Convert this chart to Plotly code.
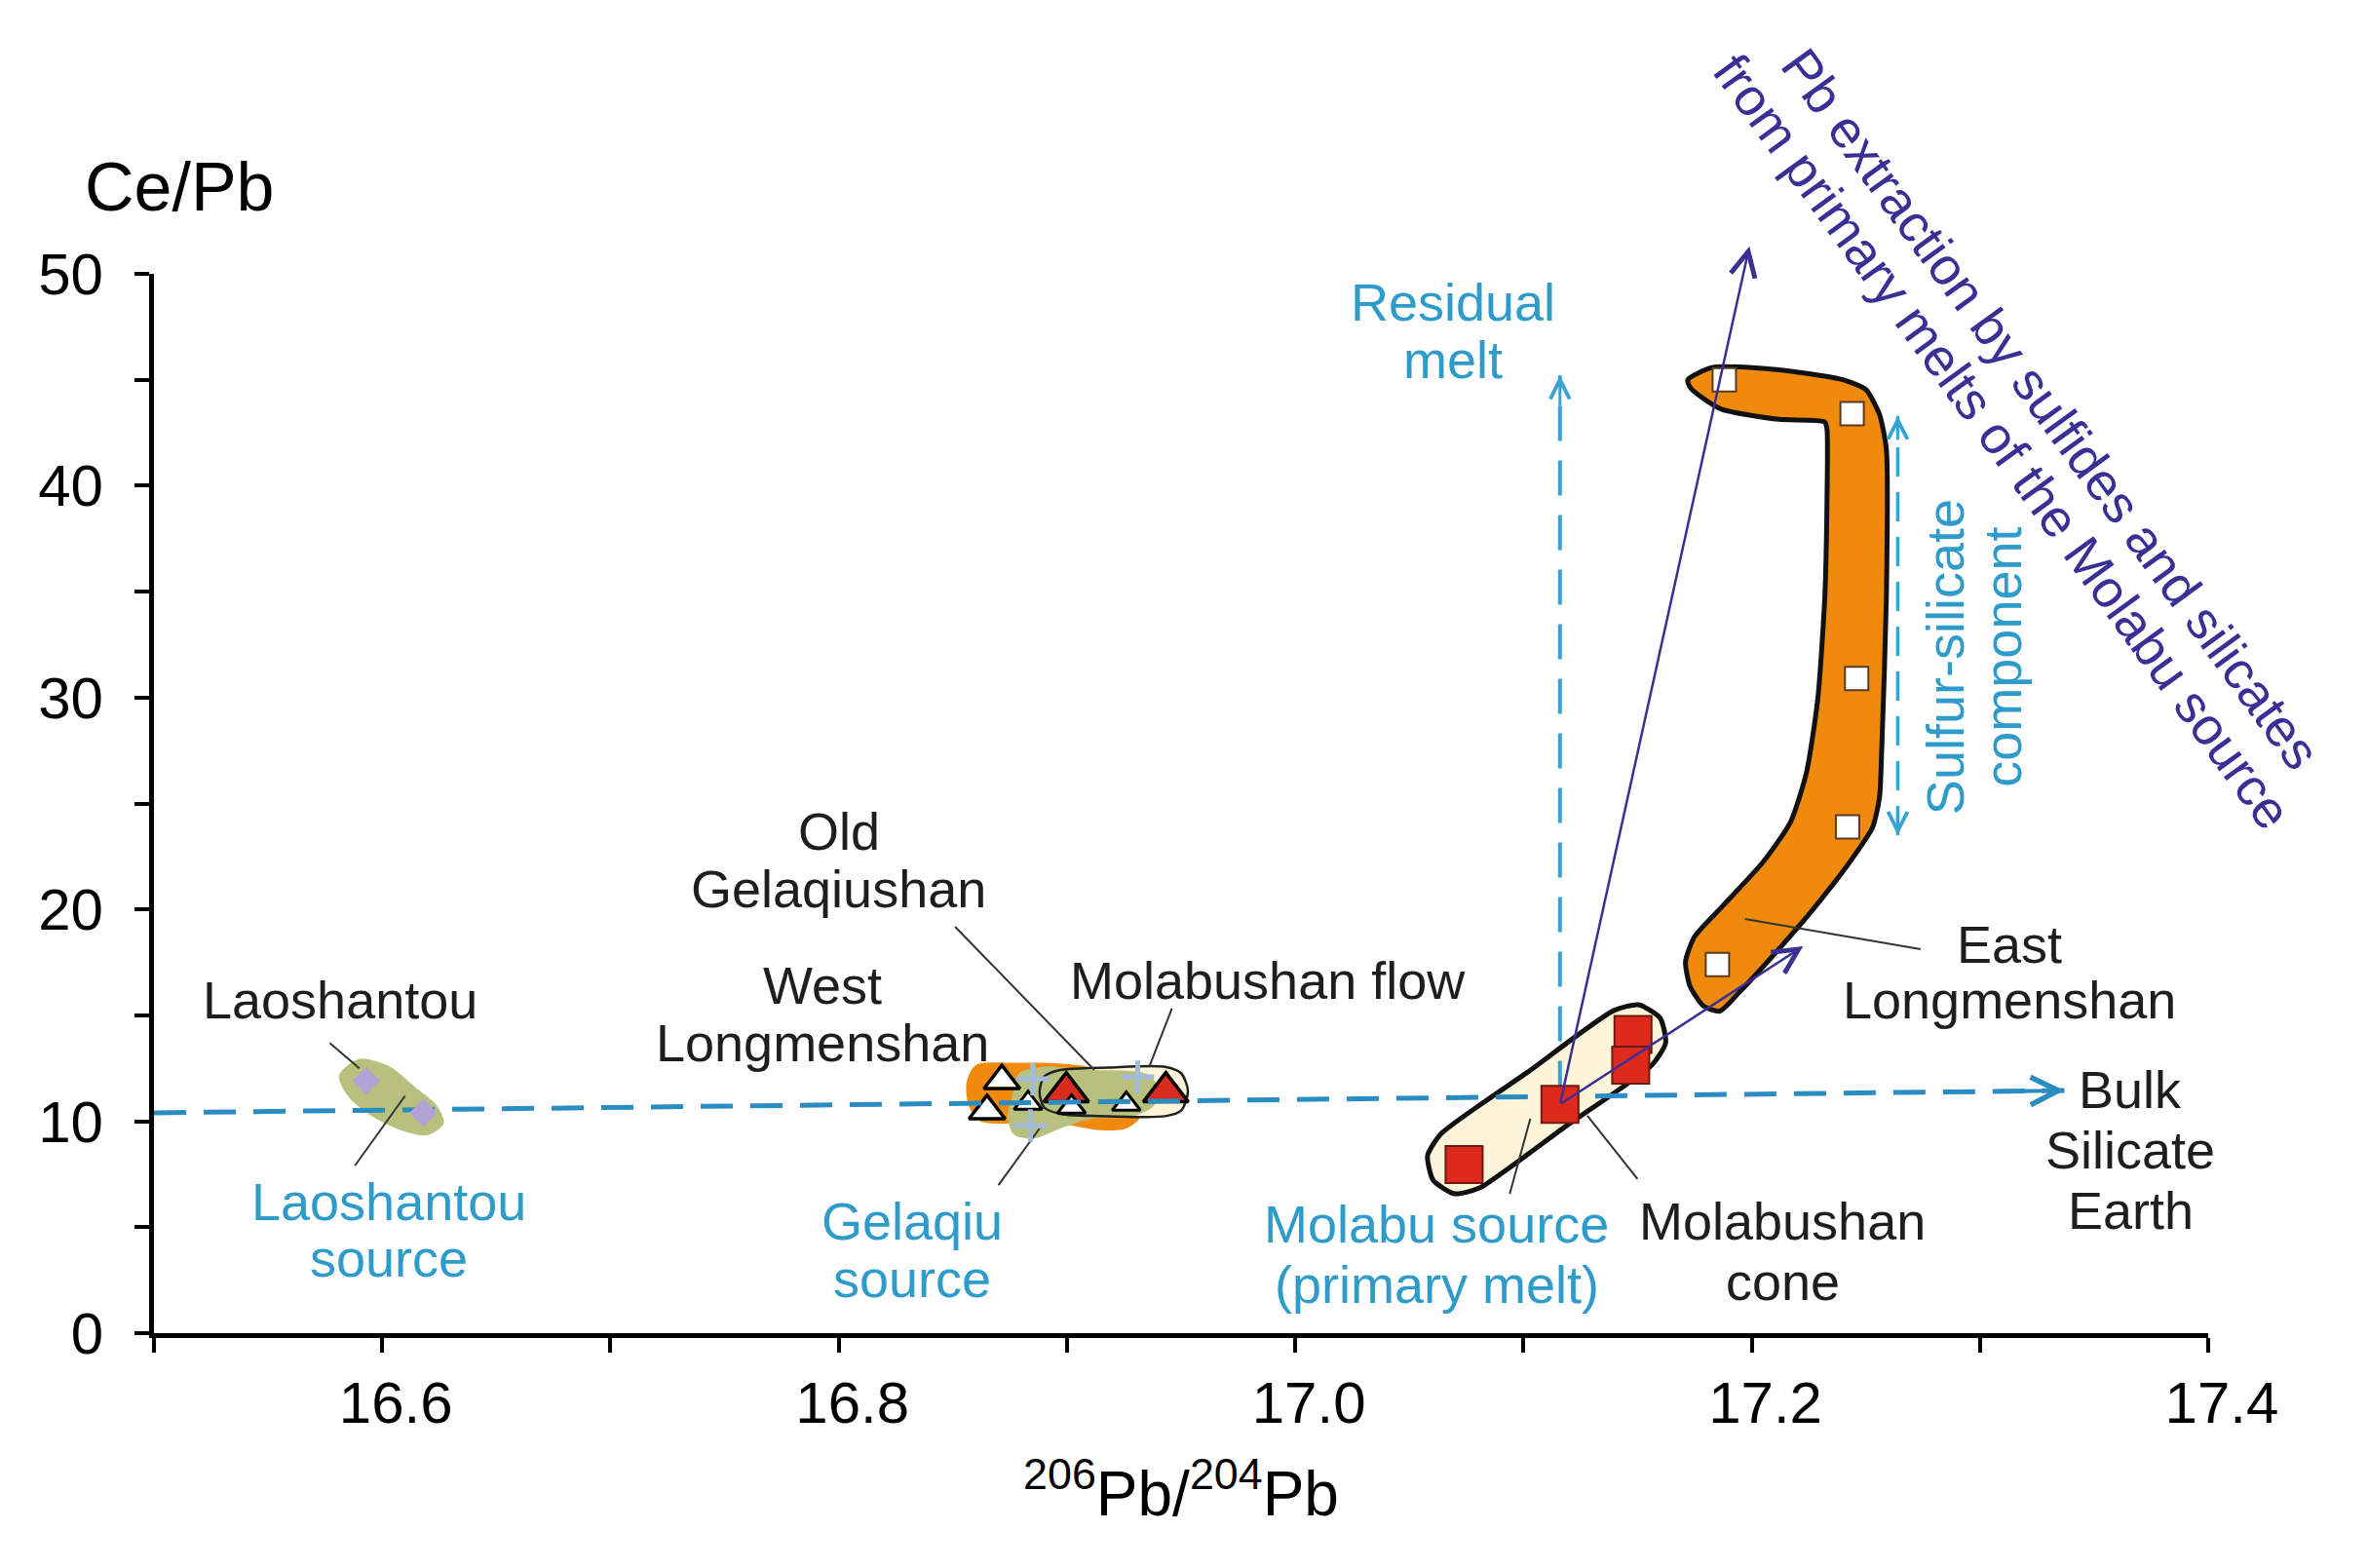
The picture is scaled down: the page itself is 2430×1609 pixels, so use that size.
import plotly.graph_objects as go

# ---------------- data (206Pb/204Pb, Ce/Pb) ----------------
laoshantou_x = [16.593, 16.618]
laoshantou_y = [11.9, 10.4]

gelaqiu_big_tri_x = [16.8715, 16.865]
gelaqiu_big_tri_y = [11.91, 10.49]
gelaqiu_small_tri_x = [16.883, 16.902, 16.926]
gelaqiu_small_tri_y = [10.85, 10.67, 10.81]
flow_tri_x = [16.8997, 16.9433]
flow_tri_y = [11.38, 11.38]
gelaqiu_cross_x = [16.885, 16.884, 16.931]
gelaqiu_cross_y = [12.0, 9.8, 12.1]

cone_x = [17.074, 17.116, 17.148, 17.147]
cone_y = [7.96, 10.8, 14.1, 12.65]

east_x = [17.188, 17.244, 17.246, 17.242, 17.185]
east_y = [45.0, 43.4, 30.9, 23.9, 17.4]

# field outlines (data coordinates)
laoshantou_field_x = [16.614, 16.624, 16.627, 16.620, 16.609, 16.595, 16.585, 16.581, 16.590, 16.603, 16.614]
laoshantou_field_y = [11.65, 10.73, 9.90, 9.35, 9.55, 10.27, 11.19, 12.15, 12.95, 12.60, 11.65]

gelaqiu_orange_x = [16.897, 16.914, 16.928, 16.932, 16.926, 16.914, 16.897, 16.877, 16.862, 16.857, 16.856, 16.860, 16.877, 16.897]
gelaqiu_orange_y = [12.73, 12.42, 11.19, 10.20, 9.66, 9.58, 9.89, 9.89, 10.0, 10.73, 11.81, 12.65, 12.76, 12.73]

gelaqiu_green_x = [16.911, 16.934, 16.940, 16.938, 16.928, 16.911, 16.897, 16.886, 16.877, 16.874, 16.876, 16.879, 16.890, 16.911]
gelaqiu_green_y = [12.42, 12.27, 11.65, 10.73, 10.20, 10.12, 9.66, 9.20, 9.35, 10.12, 11.19, 12.27, 12.57, 12.42]

flow_field_x = [16.918, 16.943, 16.950, 16.953, 16.950, 16.943, 16.918, 16.897, 16.890, 16.888, 16.890, 16.897, 16.918]
flow_field_y = [12.54, 12.57, 12.27, 11.42, 10.50, 10.24, 10.24, 10.35, 10.66, 11.35, 12.11, 12.42, 12.54]

cone_field_x = [17.1186, 17.0807, 17.0699, 17.0605, 17.0580, 17.0638, 17.1017, 17.1396, 17.1504, 17.1599, 17.1623, 17.1565, 17.1186]
cone_field_y = [9.77, 6.85, 6.58, 7.21, 8.38, 9.40, 12.31, 15.23, 15.50, 14.87, 13.70, 12.68, 9.77]

east_field_x = [17.259, 17.257, 17.256, 17.253, 17.243, 17.226, 17.209, 17.195, 17.186, 17.179, 17.173, 17.171,
                17.175, 17.187, 17.205, 17.217, 17.224, 17.229, 17.232, 17.233, 17.233, 17.232, 17.212, 17.187,
                17.178, 17.173, 17.172, 17.183, 17.212, 17.240, 17.250, 17.256, 17.259, 17.259]
east_field_y = [34.68, 27.64, 25.29, 23.88, 22.24, 19.89, 17.78, 16.14, 15.20, 15.43, 16.37, 17.54,
                18.72, 20.13, 22.24, 24.12, 26.46, 29.98, 34.68, 39.37, 42.65, 43.01, 43.13, 43.60,
                44.18, 44.65, 45.0, 45.59, 45.47, 45.0, 44.54, 43.36, 41.72, 34.68]

# trend lines
bse_x = [16.5, 17.337]
bse_y = [10.4, 11.45]
residual_x = [17.116, 17.116]
residual_y = [11.2, 45.2]
sulfur_x = [17.264, 17.264]
sulfur_y = [23.5, 43.3]
extraction_origin = (17.116, 10.8)
extraction_tip_steep = (17.199, 51.3)
extraction_tip_low = (17.2225, 18.26)

# leader lines
leader_x = [16.577, 16.590, None, 16.610, 16.588, None, 16.851, 16.912, None, 16.946, 16.936, None,
            16.888, 16.870, None, 17.103, 17.094, None, 17.128, 17.150, None, 17.197, 17.274]
leader_y = [13.7, 12.5, None, 11.2, 7.9, None, 19.18, 12.42, None, 15.32, 12.56, None,
            9.66, 6.99, None, 10.12, 6.58, None, 10.26, 7.27, None, 19.55, 18.12]

# tick labels
x_tickvals = [16.5, 16.6, 16.7, 16.8, 16.9, 17.0, 17.1, 17.2, 17.3, 17.4]
x_ticktext = ["", "16.6", "", "16.8", "", "17.0", "", "17.2", "", "17.4"]
y_tickvals = [0, 5, 10, 15, 20, 25, 30, 35, 40, 45, 50]
y_ticktext = ["0", "", "10", "", "20", "", "30", "", "40", "", "50"]

# labels
BLACK = "#1E1E1E"
BLUE = "#2E9BCB"
PURPLE = "#3A2F95"
label_text = ["Laoshantou", "Laoshantou", "source", "Old", "Gelaqiushan", "West", "Longmenshan",
              "Molabushan flow", "Gelaqiu", "source", "Molabu source", "(primary melt)",
              "Molabushan", "cone", "East", "Longmenshan", "Bulk", "Silicate", "Earth",
              "Residual", "melt"]
label_x = [16.5816, 16.603, 16.603, 16.800, 16.800, 16.793, 16.793,
           16.988, 16.832, 16.832, 17.062, 17.062,
           17.2135, 17.2135, 17.313, 17.313, 17.366, 17.366, 17.366,
           17.069, 17.069]
label_y = [15.73, 6.21, 3.54, 23.69, 20.99, 16.43, 13.72,
           16.64, 5.30, 2.59, 5.16, 2.31,
           5.30, 2.45, 18.35, 15.73, 11.50, 8.65, 5.80,
           48.66, 45.95]
label_color = [BLACK, BLUE, BLUE, BLACK, BLACK, BLACK, BLACK,
               BLACK, BLUE, BLUE, BLUE, BLUE,
               BLACK, BLACK, BLACK, BLACK, BLACK, BLACK, BLACK,
               BLUE, BLUE]
rot_text = ["Sulfur-silicate", "component",
            "Pb extraction by sulfides and silicates", "from primary melts of the Molabu source"]
rot_x = [17.285, 17.310, 17.331, 17.310]
rot_y = [31.9, 31.9, 43.65, 42.09]
rot_angle = [-90, -90, 54, 54]
rot_color = [BLUE, BLUE, PURPLE, PURPLE]

FONT = "Liberation Sans, Arial, Helvetica, sans-serif"
ORANGE = "#F08A0C"
GREEN = "#B7C07D"
CREAM = "#FCF5DA"

fig = go.Figure()

def field(x, y, fill, line_color=None, line_width=0, smooth=0.8):
    fig.add_trace(go.Scatter(
        x=x, y=y, mode="lines", fill="toself" if fill else "none", fillcolor=fill,
        line=dict(color=line_color if line_color else "rgba(0,0,0,0)", width=line_width,
                  shape="spline", smoothing=smooth),
        hoverinfo="skip"))

field(laoshantou_field_x, laoshantou_field_y, GREEN)
field(gelaqiu_orange_x, gelaqiu_orange_y, ORANGE)
field(flow_field_x, flow_field_y, CREAM)
field(gelaqiu_green_x, gelaqiu_green_y, GREEN)
field(flow_field_x, flow_field_y, None, line_color="#222222", line_width=2.5)
field(cone_field_x, cone_field_y, CREAM, line_color="#111111", line_width=5, smooth=0.6)
field(east_field_x, east_field_y, ORANGE, line_color="#111111", line_width=5, smooth=0.6)

# leader lines
fig.add_trace(go.Scatter(x=leader_x, y=leader_y, mode="lines",
                         line=dict(color="#333333", width=2), hoverinfo="skip"))

# dashed trend lines
fig.add_trace(go.Scatter(x=residual_x, y=residual_y, mode="lines",
                         line=dict(color="#35A3D3", width=4, dash="36px,20px"), hoverinfo="skip"))
fig.add_trace(go.Scatter(x=sulfur_x, y=sulfur_y, mode="lines",
                         line=dict(color="#35A3D3", width=3.5, dash="30px,16px"), hoverinfo="skip"))

# Gelaqiu cluster symbols
fig.add_trace(go.Scatter(x=gelaqiu_big_tri_x, y=gelaqiu_big_tri_y, mode="markers",
                         marker=dict(symbol="triangle-up", size=32, color="white",
                                     line=dict(color="black", width=3.5))))
fig.add_trace(go.Scatter(x=flow_tri_x, y=flow_tri_y, mode="markers",
                         marker=dict(symbol="triangle-up", size=40, color="#D92B1E",
                                     line=dict(color="black", width=3.5))))
fig.add_trace(go.Scatter(x=gelaqiu_small_tri_x, y=gelaqiu_small_tri_y, mode="markers",
                         marker=dict(symbol="triangle-up", size=25, color="white",
                                     line=dict(color="black", width=3))))
fig.add_trace(go.Scatter(x=gelaqiu_cross_x, y=gelaqiu_cross_y, mode="markers",
                         marker=dict(symbol="cross-thin", size=24,
                                     line=dict(color="#A3BAD8", width=5))))

# Bulk silicate earth line
fig.add_trace(go.Scatter(x=bse_x, y=bse_y, mode="lines",
                         line=dict(color="#2A8CC0", width=5, dash="33px,18px"), hoverinfo="skip"))

fig.add_trace(go.Scatter(x=laoshantou_x, y=laoshantou_y, mode="markers",
                         marker=dict(symbol="diamond", size=22, color="#B3A2D6")))
fig.add_trace(go.Scatter(x=cone_x, y=cone_y, mode="markers",
                         marker=dict(symbol="square", size=38, color="#DE2A1D",
                                     line=dict(color="#6E1A10", width=2))))
fig.add_trace(go.Scatter(x=east_x, y=east_y, mode="markers",
                         marker=dict(symbol="square", size=24, color="white",
                                     line=dict(color="#5A3A22", width=2))))

annotations = []
for t, x, y, c in zip(label_text, label_x, label_y, label_color):
    annotations.append(dict(x=x, y=y, xref="x", yref="y", text=t, showarrow=False,
                            xanchor="center", yanchor="middle",
                            font=dict(family=FONT, size=54, color=c)))
for t, x, y, a, c in zip(rot_text, rot_x, rot_y, rot_angle, rot_color):
    annotations.append(dict(x=x, y=y, xref="x", yref="y", text=t, showarrow=False,
                            textangle=a, xanchor="center", yanchor="middle",
                            font=dict(family=FONT, size=54, color=c)))

# purple arrows
for tip in (extraction_tip_steep, extraction_tip_low):
    annotations.append(dict(x=tip[0], y=tip[1], ax=extraction_origin[0], ay=extraction_origin[1],
                            xref="x", yref="y", axref="x", ayref="y", text="", showarrow=True,
                            arrowhead=5, arrowsize=2, arrowwidth=2.5, arrowcolor=PURPLE, standoff=0))
# heads of dashed arrows
annotations.append(dict(x=bse_x[1], y=bse_y[1], ax=bse_x[1] - 0.03, ay=bse_y[1] - 0.03 * 1.2545,
                        xref="x", yref="y", axref="x", ayref="y", text="", showarrow=True,
                        arrowhead=5, arrowsize=1.4, arrowwidth=4, arrowcolor="#2A8CC0"))
annotations.append(dict(x=residual_x[1], y=residual_y[1], ax=residual_x[1], ay=residual_y[1] - 1.5,
                        xref="x", yref="y", axref="x", ayref="y", text="", showarrow=True,
                        arrowhead=5, arrowsize=1.3, arrowwidth=3, arrowcolor="#35A3D3"))
annotations.append(dict(x=sulfur_x[1], y=sulfur_y[1], ax=sulfur_x[1], ay=sulfur_y[1] - 1.2,
                        xref="x", yref="y", axref="x", ayref="y", text="", showarrow=True,
                        arrowhead=5, arrowsize=1.3, arrowwidth=3, arrowcolor="#35A3D3"))
annotations.append(dict(x=sulfur_x[0], y=sulfur_y[0], ax=sulfur_x[0], ay=sulfur_y[0] + 1.2,
                        xref="x", yref="y", axref="x", ayref="y", text="", showarrow=True,
                        arrowhead=5, arrowsize=1.3, arrowwidth=3, arrowcolor="#35A3D3"))
# y axis title
annotations.append(dict(x=0.0128, y=1.082, xref="paper", yref="paper", text="Ce/Pb",
                        showarrow=False, xanchor="center", yanchor="middle",
                        font=dict(family=FONT, size=70, color="black")))

fig.update_layout(
    width=2430, height=1609,
    margin=dict(l=150, r=172, t=273, b=249, autoexpand=False),
    paper_bgcolor="white", plot_bgcolor="white",
    showlegend=False,
    font=dict(family=FONT, color="black"),
    annotations=annotations,
    xaxis=dict(range=[16.5, 17.4], showgrid=False, zeroline=False, showline=True,
               linecolor="black", linewidth=5, ticks="outside", ticklen=15, tickwidth=4,
               tickcolor="black", tickvals=x_tickvals, ticktext=x_ticktext,
               tickfont=dict(family=FONT, size=60, color="black"), automargin=False,
               ticklabelshift=14,
               title=dict(text="<sup>206</sup>Pb/<sup>204</sup>Pb",
                          font=dict(family=FONT, size=64, color="black"), standoff=40)),
    yaxis=dict(range=[0, 50], showgrid=False, zeroline=False, showline=True,
               linecolor="black", linewidth=5, ticks="outside", ticklen=15, tickwidth=4,
               tickcolor="black", tickvals=y_tickvals, ticktext=y_ticktext,
               tickfont=dict(family=FONT, size=60, color="black"), automargin=False,
               ticklabelstandoff=20),
)

fig.write_html("out.html")
